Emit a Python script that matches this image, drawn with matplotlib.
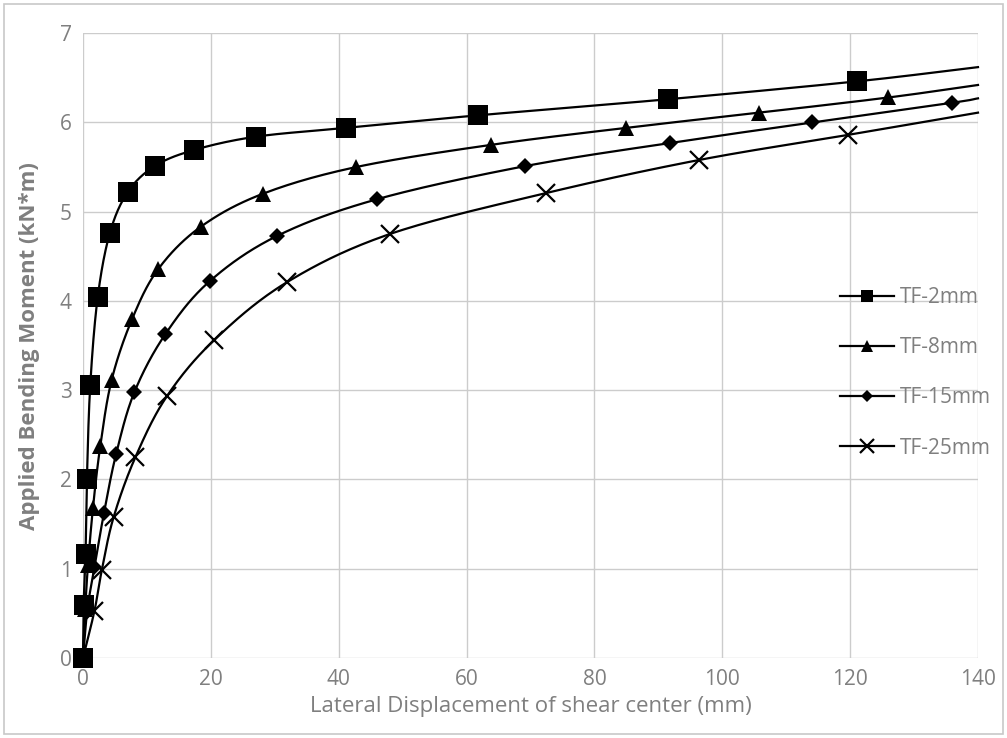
import numpy as np
import matplotlib
matplotlib.use("Agg")
import matplotlib.pyplot as plt
from matplotlib.patches import Rectangle

# Lateral displacement (mm) and applied moment (kN*m) for each flange thickness.
# The last entry of every series is the end of the curve at the right edge (no marker).
x_tf2 = [0, 0.1, 0.4, 0.62, 1.14, 2.3, 4.2, 7.0, 11.2, 17.3, 27.0, 41.2, 61.8, 91.5, 121.0, 140]
y_tf2 = [0, 0.59, 1.17, 2.01, 3.06, 4.04, 4.76, 5.22, 5.51, 5.69, 5.84, 5.94, 6.08, 6.26, 6.46, 6.62]

x_tf8 = [0, 0.35, 0.78, 1.56, 2.7, 4.5, 7.7, 11.8, 18.4, 28.1, 42.7, 63.9, 85.0, 105.8, 126.0, 140]
y_tf8 = [0, 0.55, 1.04, 1.68, 2.37, 3.12, 3.80, 4.36, 4.83, 5.20, 5.50, 5.75, 5.94, 6.11, 6.28, 6.42]

x_tf15 = [0, 0.7, 1.8, 3.3, 5.2, 8.05, 12.9, 19.8, 30.4, 46.0, 69.1, 91.8, 114.1, 135.9, 140]
y_tf15 = [0, 0.55, 1.02, 1.63, 2.29, 2.98, 3.63, 4.22, 4.73, 5.14, 5.51, 5.77, 6.00, 6.22, 6.27]

x_tf25 = [0, 1.8, 2.96, 4.8, 8.2, 13.1, 20.5, 31.9, 48.0, 72.5, 96.4, 119.6, 140]
y_tf25 = [0, 0.53, 0.99, 1.58, 2.25, 2.93, 3.56, 4.21, 4.75, 5.21, 5.58, 5.86, 6.11]

labels = ["TF-2mm", "TF-8mm", "TF-15mm", "TF-25mm"]
x_ticks = [0, 20, 40, 60, 80, 100, 120, 140]
y_ticks = [0, 1, 2, 3, 4, 5, 6, 7]

TEXT = "#7f7f7f"
GRID = "#cccccc"
plt.rcParams["font.family"] = ["Open Sans", "DejaVu Sans"]


def smooth(xs, ys, sx=140.0, sy=7.0, n=30):
    """Parametric Catmull-Rom curve through the points (in normalised space)."""
    p = np.column_stack([np.asarray(xs, float) / sx, np.asarray(ys, float) / sy * 0.7])
    p = np.vstack([p[0] - (p[1] - p[0]), p, p[-1] + (p[-1] - p[-2])])
    out = []
    t = np.linspace(0, 1, n, endpoint=False)[:, None]
    for i in range(1, len(p) - 2):
        p0, p1, p2, p3 = p[i - 1], p[i], p[i + 1], p[i + 2]
        seg = 0.5 * ((2 * p1) + (-p0 + p2) * t + (2 * p0 - 5 * p1 + 4 * p2 - p3) * t ** 2
                     + (-p0 + 3 * p1 - 3 * p2 + p3) * t ** 3)
        out.append(seg)
    out.append(p[-2][None, :])
    c = np.vstack(out)
    return c[:, 0] * sx, c[:, 1] / 0.7 * sy


fig = plt.figure(figsize=(10.07, 7.38), dpi=100)
fig.patches.append(Rectangle((0.004, 0.005), 0.992, 0.99, transform=fig.transFigure,
                             fill=False, edgecolor="#c8c8c8", linewidth=1.2))
ax = fig.add_axes([0.0824, 0.1084, 0.8888, 0.8466])

series = [
    (x_tf2, y_tf2, dict(marker="s", ms=14, mew=0)),
    (x_tf8, y_tf8, dict(marker="^", ms=11, mew=0)),
    (x_tf15, y_tf15, dict(marker="D", ms=8.5, mew=0)),
    (x_tf25, y_tf25, dict(marker="x", ms=13, mew=1.6)),
]
legend_ms = [8, 8, 6.5, 10]

handles = []
for (xs, ys, mk), lab, lms in zip(series, labels, legend_ms):
    cx, cy = smooth(xs, ys)
    ax.plot(cx, cy, color="black", lw=1.6, zorder=3, clip_on=False)
    ax.plot(xs[:-1], ys[:-1], linestyle="none", color="black", zorder=4,
            clip_on=False, **mk)
    h, = ax.plot([], [], color="black", lw=1.6, marker=mk["marker"], ms=lms,
                 mew=mk["mew"], label=lab)
    handles.append(h)

ax.set_xlim(0, 140)
ax.set_ylim(0, 7)
ax.set_xticks(x_ticks)
ax.set_yticks(y_ticks)
ax.grid(True, color=GRID, linewidth=1.0, zorder=0)
ax.set_axisbelow(True)
for s in ax.spines.values():
    s.set_visible(False)
ax.tick_params(length=0, labelsize=15, labelcolor=TEXT, pad=8)

ax.set_xlabel("Lateral Displacement of shear center (mm)", fontsize=16, color=TEXT, labelpad=4)
ax.set_ylabel("Applied Bending Moment (kN*m)", fontsize=16, color=TEXT,
              fontweight="bold", labelpad=14)

leg = ax.legend(handles=handles, loc="upper left", bbox_to_anchor=(0.836, 0.607),
                frameon=False, fontsize=15, labelcolor=TEXT, handlelength=2.6,
                handletextpad=0.3, labelspacing=1.4, borderaxespad=0)

fig.savefig("out.png", dpi=100, facecolor="white")
